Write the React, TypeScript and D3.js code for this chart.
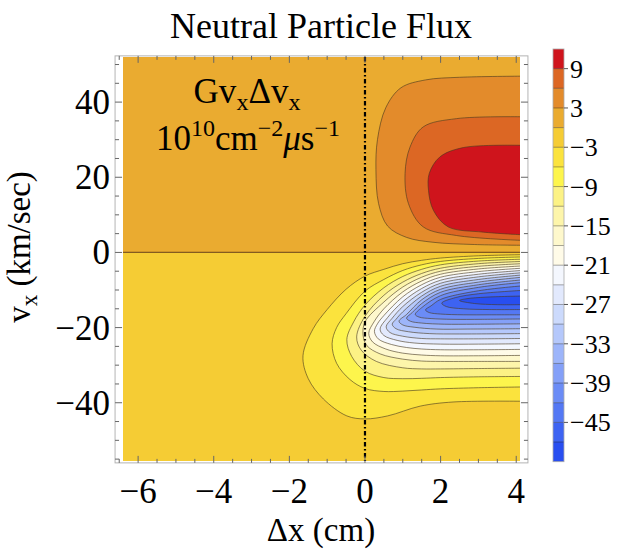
import React from "react";
import * as d3 from "d3";

const W = 619;
const H = 552;

// axes
const xDomain = [-6.4, 4.1];
const vDomain = [-55.5, 52];
const xMajor = [-6, -4, -2, 0, 2, 4];
const vMajor = [-40, -20, 0, 20, 40];
const xMinor = d3.range(-6.5, 4.01, 0.5);
const vMinor = d3.range(-55, 51, 5);

// colour bands, lowest (-51..-48) to highest (9..12)
const bandColors = [
  "#284ef0", "#3d63f2", "#5478f4", "#6b8cf6", "#84a0f8", "#9db5fa", "#b5c8fb",
  "#ccdafc", "#e2e9fd", "#f4f7fe", "#fffbe8", "#fef8cc", "#fdf5aa", "#fcf285",
  "#fdf54c", "#fbe33d", "#f5cc34", "#eaab30", "#e38b2b", "#dc6724", "#cf141c",
];
const barLabels = [9, 3, -3, -9, -15, -21, -27, -33, -39, -45];

// contour lines: [Δx (cm), vx (km/s)]
const upperP3 = [[4.15, 46.9], [2.5, 46.6], [1.6, 45.9], [0.95, 43.8], [0.55, 38.5], [0.33, 30], [0.29, 22], [0.36, 13], [0.6, 7], [1.1, 4], [1.8, 2.7], [2.9, 2.1], [4.15, 1.9]];
const upperP6 = [[4.15, 36.1], [2.42, 35.6], [1.54, 33.4], [1.19, 28], [1.06, 21], [1.15, 13], [1.54, 6.8], [2.42, 4.5], [4.15, 3.2]];
const upperP9 = [[4.15, 28.5], [2.6, 27.9], [1.98, 25.4], [1.7, 21], [1.68, 16.5], [1.81, 11.2], [2.2, 6.8], [3.13, 5.4], [4.15, 4.7]];

const lowerM3 = [[4.15, -0.6], [3, -0.9], [2, -1.5], [1.5, -2.1], [1, -3], [0.5, -4.5], [0, -6.3], [-0.5, -9.8], [-1, -15.2], [-1.37, -20.3], [-1.64, -27.5], [-1.5, -33.6], [-1.1, -39], [-0.48, -43.5], [0, -44.3], [0.6, -43.5], [1.46, -40.9], [2.33, -39.8], [4.15, -39.6]];
const lowerM6 = [[4.15, -1.2], [3, -1.6], [2, -2.4], [1.5, -3.3], [1, -4.8], [0.5, -7.2], [0, -10.3], [-0.5, -16.3], [-0.75, -20], [-0.87, -24.3], [-0.75, -29.5], [-0.4, -33.8], [0, -36.2], [0.5, -37], [1, -36.9], [1.5, -36.6], [2, -36.3], [3, -36], [4.15, -35.8]];
const lowerM9 = [[4.15, -1.8], [3, -2.3], [2, -3.3], [1.5, -4.5], [1, -6.4], [0.5, -9.4], [0, -14], [-0.3, -18.5], [-0.48, -23.2], [-0.35, -27.7], [0, -31.6], [0.5, -33.3], [1, -33.6], [1.5, -33.5], [2, -33.3], [3, -33.1], [4.15, -33]];
const lowerM12 = [[4.15, -2.4], [3, -3], [2, -4.2], [1.5, -5.6], [1, -7.9], [0.5, -11.4], [0, -17], [-0.22, -22.5], [-0.1, -26], [0.3, -29], [1, -30.7], [1.5, -31], [2, -31], [3, -30.9], [4.15, -30.8]];
const lowerM15 = [[4.15, -3], [3, -3.7], [2, -5], [1.5, -6.6], [1, -9.2], [0.5, -13.2], [0, -18.5], [-0.05, -22], [0.05, -24.8], [0.4, -27], [1, -28.4], [1.5, -28.9], [2, -29], [3, -29], [4.15, -29]];
const lowerM18 = [[4.15, -3.6], [3, -4.4], [2, -5.8], [1.5, -7.6], [1, -10.5], [0.5, -15], [0.25, -18.3], [0.1, -21.5], [0.2, -23.8], [0.55, -25.7], [1, -26.8], [1.5, -27.3], [2, -27.5], [3, -27.5], [4.15, -27.4]];
const lowerM21 = [[4.15, -4.2], [3, -5.1], [2, -6.6], [1.5, -8.6], [1, -11.8], [0.5, -16.8], [0.33, -19], [0.25, -21], [0.35, -23], [0.7, -24.5], [1.1, -25.3], [1.5, -25.7], [2, -25.9], [3, -25.9], [4.15, -25.8]];
const lowerM24 = [[4.15, -4.8], [3, -5.8], [2, -7.4], [1.5, -9.6], [1, -13.1], [0.6, -17.3], [0.4, -20.4], [0.5, -22.1], [0.85, -23.4], [1.3, -24.1], [2, -24.4], [3, -24.4], [4.15, -24.3]];
const lowerM27 = [[4.15, -5.4], [3, -6.5], [2, -8.2], [1.5, -10.6], [1, -14.4], [0.72, -17.5], [0.56, -19.8], [0.66, -21.3], [1, -22.3], [1.5, -22.9], [2, -23], [3, -23], [4.15, -22.9]];
const lowerM30 = [[4.15, -6], [3, -7.2], [2, -9], [1.5, -11.6], [1, -15.8], [0.82, -17.8], [0.72, -19.1], [0.82, -20.3], [1.15, -21.1], [1.7, -21.6], [2.5, -21.7], [4.15, -21.6]];
const lowerM33 = [[4.15, -6.6], [3, -7.9], [2, -9.8], [1.5, -12.6], [1.1, -16.5], [0.9, -18.3], [1, -19.3], [1.3, -19.9], [1.9, -20.4], [2.7, -20.4], [4.15, -20.3]];
const lowerM36 = [[4.15, -7.3], [3, -8.6], [2, -10.6], [1.5, -13.6], [1.25, -16], [1.1, -17.5], [1.2, -18.3], [1.5, -18.8], [2.1, -19.1], [2.9, -19.1], [4.15, -19]];
const lowerM39 = [[4.15, -8], [3, -9.3], [2, -11.5], [1.5, -14.7], [1.33, -16.5], [1.43, -17.2], [1.75, -17.6], [2.3, -17.8], [3.1, -17.8], [4.15, -17.7]];
const lowerM42 = [[4.15, -8.9], [3, -10.2], [2, -12.5], [1.75, -14.2], [1.6, -15.3], [1.7, -16], [2, -16.4], [2.6, -16.6], [3.3, -16.6], [4.15, -16.6]];
const lowerM45 = [[4.15, -10.1], [3, -11], [2.4, -12], [2.03, -13.5], [2.15, -14.4], [2.6, -15], [3.3, -15.2], [4.15, -15.2]];
const lowerM48 = [[4.15, -11.6], [3.2, -11.9], [2.7, -12.3], [2.5, -12.8], [2.9, -13.6], [3.5, -13.9], [4.15, -13.9]];

const upperContours: [number, number[][]][] = [[3, upperP3], [6, upperP6], [9, upperP9]];
const lowerContours: [number, number[][]][] = [
  [-3, lowerM3], [-6, lowerM6], [-9, lowerM9], [-12, lowerM12], [-15, lowerM15], [-18, lowerM18],
  [-21, lowerM21], [-24, lowerM24], [-27, lowerM27], [-30, lowerM30], [-33, lowerM33], [-36, lowerM36],
  [-39, lowerM39], [-42, lowerM42], [-45, lowerM45], [-48, lowerM48],
];

const FONT = "'Liberation Serif', 'Times New Roman', serif";

const x = d3.scaleLinear().domain(xDomain).range([123, 520]);
const y = d3.scaleLinear().domain(vDomain).range([461, 57]);
const barY = d3.scaleLinear().domain([-51, 12]).range([461.7, 49]);

const bandIndex = (lo: number) => Math.round((lo + 51) / 3);

const lineGen = d3
  .line<number[]>()
  .x((d) => x(d[0]))
  .y((d) => y(d[1]))
  .curve(d3.curveCatmullRom.alpha(0.5));

const regionPath = (pts: number[][]) =>
  lineGen(pts) +
  `L${x(4.6)},${y(pts[pts.length - 1][1])}L${x(4.6)},${y(pts[0][1])}Z`;

const fx0 = x(-6.61);
const fx1 = x(4.31);
const fy0 = y(52.3);
const fy1 = y(-56);

const minus = (t: number) => (t < 0 ? "\u2212" + Math.abs(t) : String(t));

const App = () => {
  const lineStroke = "rgba(70,55,30,0.6)";
  return (
    <svg
      width={W}
      height={H}
      style={{ position: "absolute", left: 0, top: 0, display: "block", fontFamily: FONT }}
    >
      <rect width={W} height={H} fill="white" />
      <text x={321} y={38} fontSize={36} textAnchor="middle">
        Neutral Particle Flux
      </text>

      <defs>
        <clipPath id="plotClip">
          <rect x={x(xDomain[0])} y={y(vDomain[1])} width={x(xDomain[1]) - x(xDomain[0])} height={y(vDomain[0]) - y(vDomain[1])} />
        </clipPath>
      </defs>

      <g clipPath="url(#plotClip)">
        <rect x={x(-7)} y={y(60)} width={x(5) - x(-7)} height={y(0) - y(60)} fill={bandColors[bandIndex(0)]} />
        <rect x={x(-7)} y={y(0)} width={x(5) - x(-7)} height={y(-60) - y(0)} fill={bandColors[bandIndex(-3)]} />
        {upperContours.map(([lev, pts]) => (
          <path key={"uf" + lev} d={regionPath(pts)} fill={bandColors[bandIndex(lev)]} />
        ))}
        {lowerContours.map(([lev, pts]) => (
          <path key={"lf" + lev} d={regionPath(pts)} fill={bandColors[bandIndex(lev - 3)]} />
        ))}
        {[...upperContours, ...lowerContours].map(([lev, pts]) => (
          <path key={"ls" + lev} d={lineGen(pts) || ""} fill="none" stroke={lineStroke} strokeWidth={1} />
        ))}
        <line x1={x(-7)} x2={x(5)} y1={y(0)} y2={y(0)} stroke="rgba(110,70,20,0.85)" strokeWidth={1.2} />
        <line x1={x(0)} x2={x(0)} y1={y(vDomain[1])} y2={y(vDomain[0])} stroke="black" strokeWidth={2.2} strokeDasharray="4.5,2.5,1.5,2.5" />
      </g>

      {/* frame */}
      <rect x={fx0} y={fy0} width={fx1 - fx0} height={fy1 - fy0} fill="none" stroke="#b4b4b4" strokeWidth={1} />
      {xMinor.map((t) => {
        const len = xMajor.includes(t) ? 7 : 4;
        return (
          <g key={"xt" + t} stroke="#666" strokeWidth={1}>
            <line x1={x(t)} x2={x(t)} y1={fy1} y2={fy1 - len} />
            <line x1={x(t)} x2={x(t)} y1={fy0} y2={fy0 + len} />
          </g>
        );
      })}
      {vMinor.map((t) => {
        const len = vMajor.includes(t) ? 7 : 4;
        return (
          <g key={"yt" + t} stroke="#666" strokeWidth={1}>
            <line x1={fx0} x2={fx0 + len} y1={y(t)} y2={y(t)} />
            <line x1={fx1} x2={fx1 - len} y1={y(t)} y2={y(t)} />
          </g>
        );
      })}
      {xMajor.map((t) => (
        <text key={"xl" + t} x={x(t)} y={503} fontSize={35} textAnchor="middle">
          {minus(t)}
        </text>
      ))}
      {vMajor.map((t) => (
        <text key={"yl" + t} x={110} y={y(t) + 12} fontSize={35} textAnchor="end">
          {minus(t)}
        </text>
      ))}

      <text x={321} y={541} fontSize={33} textAnchor="middle">
        Δx (cm)
      </text>
      <text transform="translate(30,247) rotate(-90)" fontSize={33} textAnchor="middle">
        v<tspan fontSize={23} dy={7}>x</tspan>
        <tspan dy={-7}> (km/sec)</tspan>
      </text>

      {/* annotation */}
      <text x={247} y={103} fontSize={35} textAnchor="middle">
        Gv<tspan fontSize={24} dy={7}>x</tspan>
        <tspan dy={-7}>Δv</tspan>
        <tspan fontSize={24} dy={7}>x</tspan>
      </text>
      <text x={248} y={150} fontSize={35} textAnchor="middle">
        10<tspan fontSize={24} dy={-14}>10</tspan>
        <tspan dy={14}>cm</tspan>
        <tspan fontSize={24} dy={-14}>{"\u22122"}</tspan>
        <tspan dy={14} fontStyle="italic">μ</tspan>
        <tspan>s</tspan>
        <tspan fontSize={24} dy={-14}>{"\u22121"}</tspan>
      </text>

      {/* colour bar */}
      {bandColors.map((c, i) => (
        <rect key={"b" + i} x={553} width={11} y={barY(-48 + 3 * i)} height={barY(-51 + 3 * i) - barY(-48 + 3 * i)} fill={c} />
      ))}
      {d3.range(-48, 10, 3).map((l) => (
        <line key={"bl" + l} x1={553} x2={564} y1={barY(l)} y2={barY(l)} stroke="rgba(0,0,0,0.35)" strokeWidth={1} />
      ))}
      <rect x={553} y={barY(12)} width={11} height={barY(-51) - barY(12)} fill="none" stroke="#aaa" strokeWidth={0.8} />
      {barLabels.map((l) => (
        <g key={"bt" + l}>
          <line x1={564} x2={568} y1={barY(l)} y2={barY(l)} stroke="#555" />
          <text x={570} y={barY(l) + 9} fontSize={26}>
            {minus(l)}
          </text>
        </g>
      ))}
    </svg>
  );
};

export default App;
